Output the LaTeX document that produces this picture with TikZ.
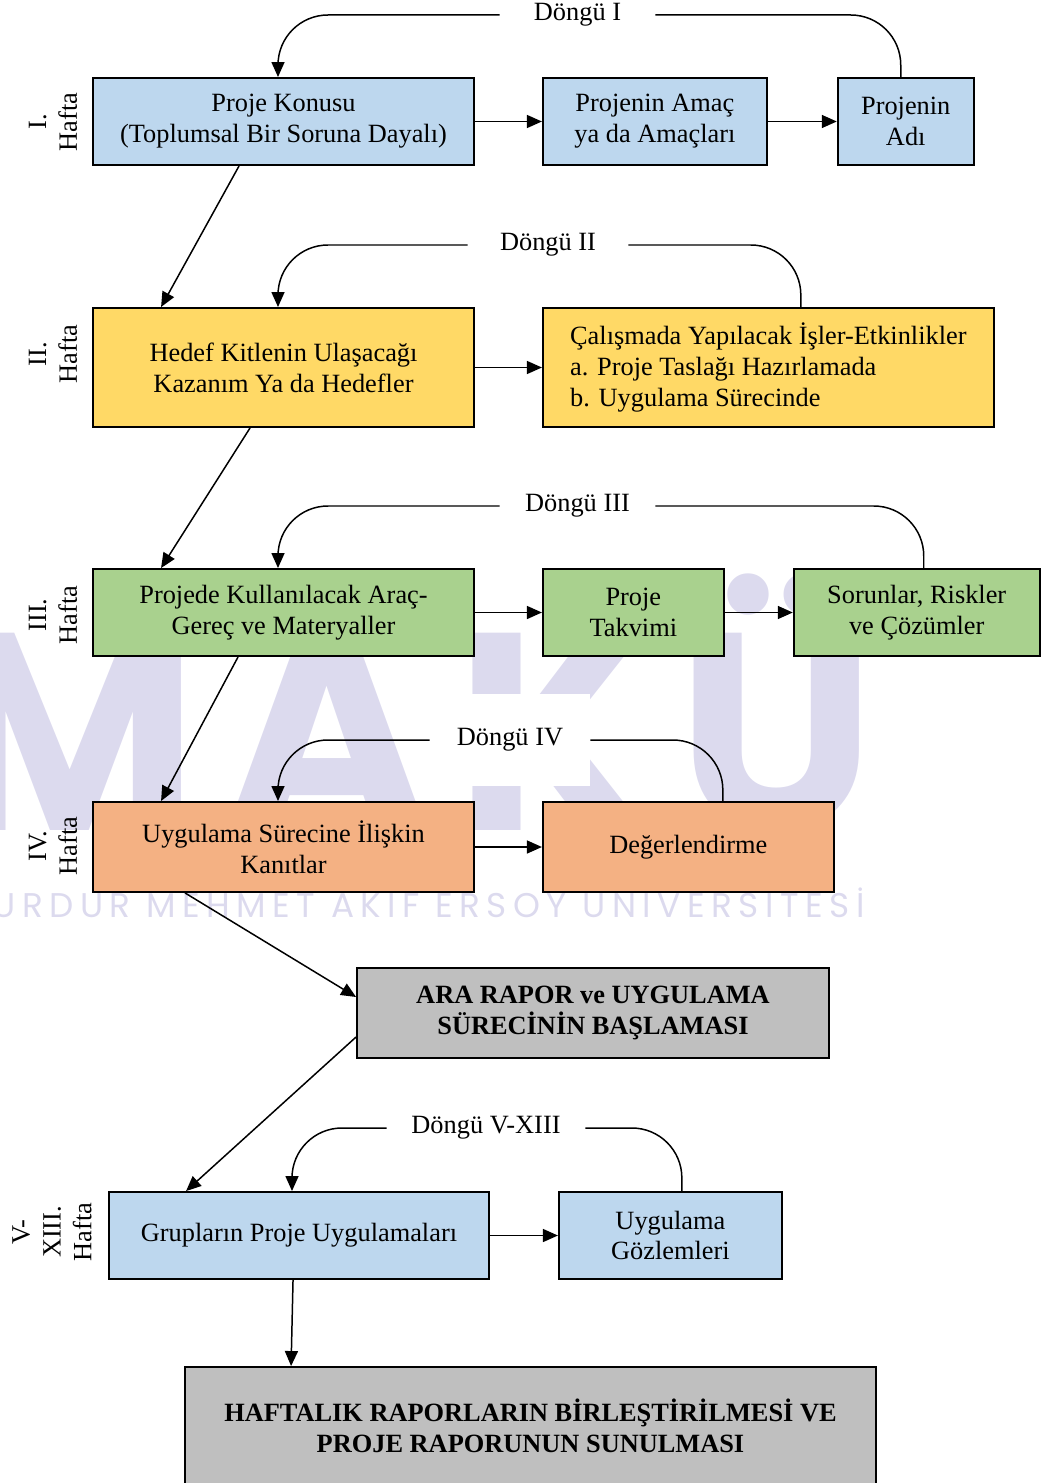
\documentclass[tikz,border=0pt]{standalone}
\usepackage{fontspec}
\setmainfont{Liberation Serif}
\newfontfamily\wmfont{Poppins}[LetterSpace=9]
\newfontfamily\wmthinfont{Poppins}[LetterSpace=19]
\usetikzlibrary{arrows.meta,positioning}

\definecolor{boxblue}{RGB}{189,215,238}
\definecolor{boxyellow}{RGB}{255,217,102}
\definecolor{boxgreen}{RGB}{169,209,142}
\definecolor{boxorange}{RGB}{244,177,131}
\definecolor{boxgray}{RGB}{191,191,191}
\definecolor{wmcolor}{RGB}{220,218,238}
\newcommand{\boxfont}{\fontsize{15}{17.6}\selectfont}

\begin{document}
\begin{tikzpicture}[x=0.02cm, y=-0.02cm,
    box/.style={draw=black, line width=1.1pt, align=center, inner sep=0pt, minimum height=1.74cm, font=\boxfont},
    week/.style={rotate=90, align=center, inner sep=0pt, font=\boxfont},
    cycle/.style={fill=white, minimum width=3.2cm, minimum height=1.84cm, inner sep=0pt, font=\boxfont},
    link/.style={line width=0.85pt, -{Triangle[length=0.3cm, width=0.26cm]}},
    back/.style={line width=0.85pt, rounded corners=1cm}]
  \useasboundingbox (0,0) rectangle (1042,1483);

  % watermark
  \node[anchor=base west, text=wmcolor, inner sep=0pt, font=\wmfont\bfseries\fontsize{160}{160}\selectfont] (wmlogo) at (-60,830) {MAKÜ};
  \node[anchor=base east, text=wmcolor, inner sep=0pt, font=\wmthinfont\fontsize{19.5}{20}\selectfont] (wmline) at (865,917) {BURDUR MEHMET AKİF ERSOY ÜNİVERSİTESİ};

  % I. Hafta
  \node[box, fill=boxblue, minimum width=7.62cm] (konu) at (283.5,121.5) {Proje Konusu\\(Toplumsal Bir Soruna Dayalı)};
  \node[box, fill=boxblue, minimum width=4.48cm] (amac) [right=1.34cm of konu] {Projenin Amaç\\ya da Amaçları};
  \node[box, fill=boxblue, minimum width=2.72cm] (adi) [right=1.38cm of amac] {Projenin\\Adı};
  \node[week] (hI) at (53,122) {I.\\Hafta};

  % II. Hafta
  \node[box, fill=boxyellow, minimum width=7.62cm, minimum height=2.38cm] (hedef) at (283.5,367.5) {Hedef Kitlenin Ulaşacağı\\Kazanım Ya da Hedefler};
  \node[box, fill=boxyellow, minimum width=9.02cm, minimum height=2.38cm, align=left] (calisma) [right=1.34cm of hedef] {Çalışmada Yapılacak İşler-Etkinlikler\\a. Proje Taslağı Hazırlamada\\b. Uygulama Sürecinde};
  \node[week] (hII) at (53,354) {II.\\Hafta};

  % III. Hafta
  \node[box, fill=boxgreen, minimum width=7.62cm] (arac) at (283.5,612.5) {Projede Kullanılacak Araç-\\Gereç ve Materyaller};
  \node[box, fill=boxgreen, minimum width=3.62cm] (takvim) [right=1.34cm of arac] {Proje\\Takvimi};
  \node[box, fill=boxgreen, minimum width=4.92cm] (sorun) [right=1.36cm of takvim] {Sorunlar, Riskler\\ve Çözümler};
  \node[week] (hIII) at (53,615) {III.\\Hafta};

  % IV. Hafta
  \node[box, fill=boxorange, minimum width=7.62cm, minimum height=1.8cm] (kanit) at (283.5,847) {Uygulama Sürecine İlişkin\\Kanıtlar};
  \node[box, fill=boxorange, minimum width=5.82cm, minimum height=1.8cm] (deger) [right=1.34cm of kanit] {Değerlendirme};
  \node[week] (hIV) at (53,846) {IV.\\Hafta};

  \node[box, fill=boxgray, minimum width=9.44cm, minimum height=1.8cm, font=\boxfont\bfseries] (ara) at (593,1013) {ARA RAPOR ve UYGULAMA\\SÜRECİNİN BAŞLAMASI};

  % V-XIII. Hafta
  \node[box, fill=boxblue, minimum width=7.6cm] (grup) at (299,1235.5) {Grupların Proje Uygulamaları};
  \node[box, fill=boxblue, minimum width=4.46cm] (gozlem) [right=1.36cm of grup] {Uygulama\\Gözlemleri};
  \node[week] (hV) at (52,1232) {V-\\XIII.\\Hafta};

  \node[box, fill=boxgray, minimum width=13.82cm, minimum height=2.34cm, font=\boxfont\bfseries] (haftalik) at (530.5,1425.5) {HAFTALIK RAPORLARIN BİRLEŞTİRİLMESİ VE\\PROJE RAPORUNUN SUNULMASI};

  % arrows within rows
  \draw[link] (konu) -- (amac);
  \draw[link] (amac) -- (adi);
  \draw[link] (hedef) -- (calisma);
  \draw[link] (arac) -- (takvim);
  \draw[link] (takvim) -- (sorun);
  \draw[link] (kanit) -- (deger);
  \draw[link] (grup) -- (gozlem);

  % arrows between rows
  \draw[link] ([xshift=2.94cm]konu.south west) -- ([xshift=1.38cm]hedef.north west);
  \draw[link] ([xshift=3.16cm]hedef.south west) -- ([xshift=1.38cm]arac.north west);
  \draw[link] ([xshift=2.92cm]arac.south west) -- ([xshift=1.38cm]kanit.north west);
  \draw[link] ([xshift=1.86cm]kanit.south west) -- ([yshift=0.32cm]ara.west);
  \draw[link] ([yshift=-0.48cm]ara.west) -- ([xshift=1.56cm]grup.north west);
  \draw[link] ([xshift=3.7cm]grup.south west) -- ([xshift=2.14cm]haftalik.north west);

  % cycles
  \node[cycle, minimum width=3.1cm] (dI) at (577.5,15) {Döngü I};
  \draw[back] ([xshift=-0.1cm]adi.north) |- (dI.east);
  \draw[back, link] (dI.west) -| ([xshift=-0.11cm]konu.north);

  \node[cycle] (dII) at (548,245) {Döngü II};
  \draw[back] ([xshift=0.65cm]calisma.north) |- (dII.east);
  \draw[back, link] (dII.west) -| ([xshift=-0.11cm]hedef.north);

  \node[cycle, minimum width=3.1cm] (dIII) at (577.5,506) {Döngü III};
  \draw[back] ([xshift=0.14cm]sorun.north) |- (dIII.east);
  \draw[back, link] (dIII.west) -| ([xshift=-0.11cm]arac.north);

  \node[cycle] (dIV) at (510,740) {Döngü IV};
  \draw[back] ([xshift=0.69cm]deger.north) |- (dIV.east);
  \draw[back, link] (dIV.west) -| ([xshift=-0.11cm]kanit.north);

  \node[cycle, minimum width=3.96cm] (dV) at (486,1128) {Döngü V-XIII};
  \draw[back] ([xshift=0.23cm]gozlem.north) |- (dV.east);
  \draw[back, link] (dV.west) -| ([xshift=-0.14cm]grup.north);
\end{tikzpicture}
\end{document}
